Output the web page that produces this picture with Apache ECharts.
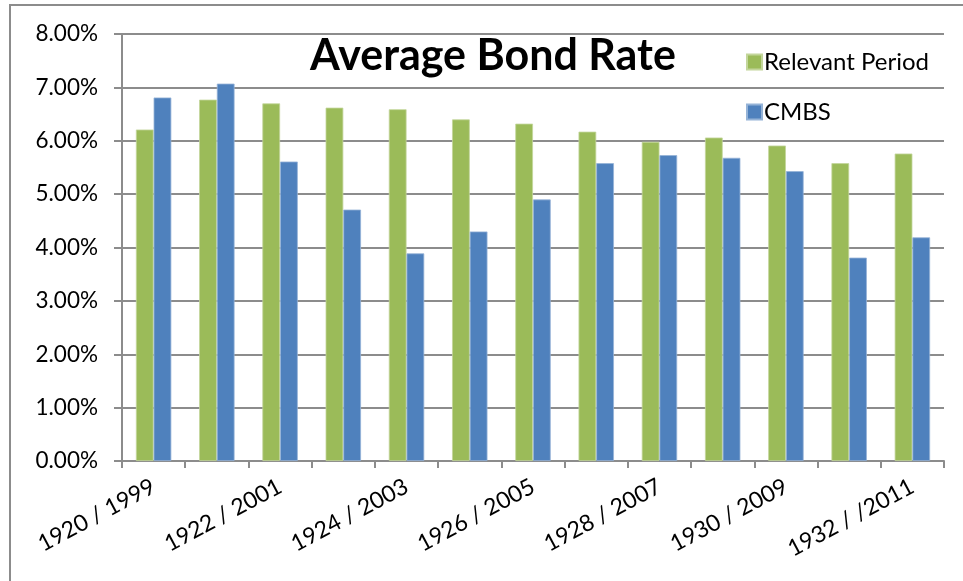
<!DOCTYPE html>
<html>
<head>
<meta charset="utf-8">
<script src="https://cdn.jsdelivr.net/npm/echarts@6/dist/echarts.min.js"></script>
<style>html,body{margin:0;padding:0;background:#fff;}#c{width:963px;height:581px;}</style>
</head>
<body>
<div id="c"></div>
<script>
const categories = ['1920 / 1999','1921 / 2000','1922 / 2001','1923 / 2002','1924 / 2003','1925 / 2004','1926 / 2005','1927 / 2006','1928 / 2007','1929 / 2008','1930 / 2009','1931 / 2010','1932 / /2011'];
const relevantPeriod = [6.21, 6.77, 6.70, 6.62, 6.59, 6.40, 6.32, 6.17, 5.98, 6.06, 5.91, 5.58, 5.76];
const cmbs = [6.81, 7.07, 5.61, 4.71, 3.89, 4.30, 4.90, 5.58, 5.73, 5.68, 5.43, 3.81, 4.19];
const yTicks = [0, 1, 2, 3, 4, 5, 6, 7, 8];

const FONT = 'Lato';
const chart = echarts.init(document.getElementById('c'));
chart.setOption({
  animation: false,
  backgroundColor: '#fff',
  textStyle: { fontFamily: FONT, color: '#000' },
  title: {
    text: 'Average Bond Rate',
    left: 488, top: 30, textAlign: 'center',
    textStyle: { fontFamily: FONT, fontWeight: 'bold', fontSize: 43, color: '#000' }
  },
  legend: {
    orient: 'vertical', left: 741, top: 45,
    itemWidth: 15, itemHeight: 15, itemGap: 26,
    icon: 'rect',
    textStyle: { fontFamily: FONT, fontSize: 24, color: '#000', padding: [0,0,0,-3] },
    data: ['Relevant Period', 'CMBS']
  },
  graphic: [{
    type: 'rect', shape: { x: 10, y: 5, width: 1200, height: 1200 },
    style: { fill: 'none', stroke: '#8c8c8c', lineWidth: 2 }, z: -1
  }],
  grid: { left: 122, right: 19, top: 34, bottom: 120 },
  xAxis: {
    type: 'category', data: categories,
    axisLine: { lineStyle: { color: '#8c8c8c', width: 2 } },
    axisTick: { show: true, length: 7, alignWithLabel: false, interval: 0, lineStyle: { color: '#8c8c8c', width: 2 } },
    axisLabel: { interval: 1, rotate: 28, fontSize: 23, fontFamily: FONT, color: '#000', margin: 24 }
  },
  yAxis: {
    type: 'value', min: 0, max: 8, interval: 1,
    axisLine: { show: true, lineStyle: { color: '#8c8c8c', width: 2 } },
    axisTick: { show: true, inside: false, length: 8, lineStyle: { color: '#8c8c8c', width: 2 } },
    splitLine: { lineStyle: { color: '#8c8c8c', width: 2 } },
    axisLabel: { formatter: v => yTicks.includes(v) ? v.toFixed(2) + '%' : '', fontSize: 22.5, fontFamily: FONT, color: '#000', margin: 24 }
  },
  series: [
    { name: 'Relevant Period', type: 'bar', data: relevantPeriod, barGap: '0%', barCategoryGap: '44%',
      itemStyle: { color: '#9bbb59', borderColor: '#c3d69b', borderWidth: 0.8 } },
    { name: 'CMBS', type: 'bar', data: cmbs, barGap: '0%', barCategoryGap: '44%',
      itemStyle: { color: '#4f81bd', borderColor: '#95b3d7', borderWidth: 0.8 } }
  ]
});
</script>
</body>
</html>
